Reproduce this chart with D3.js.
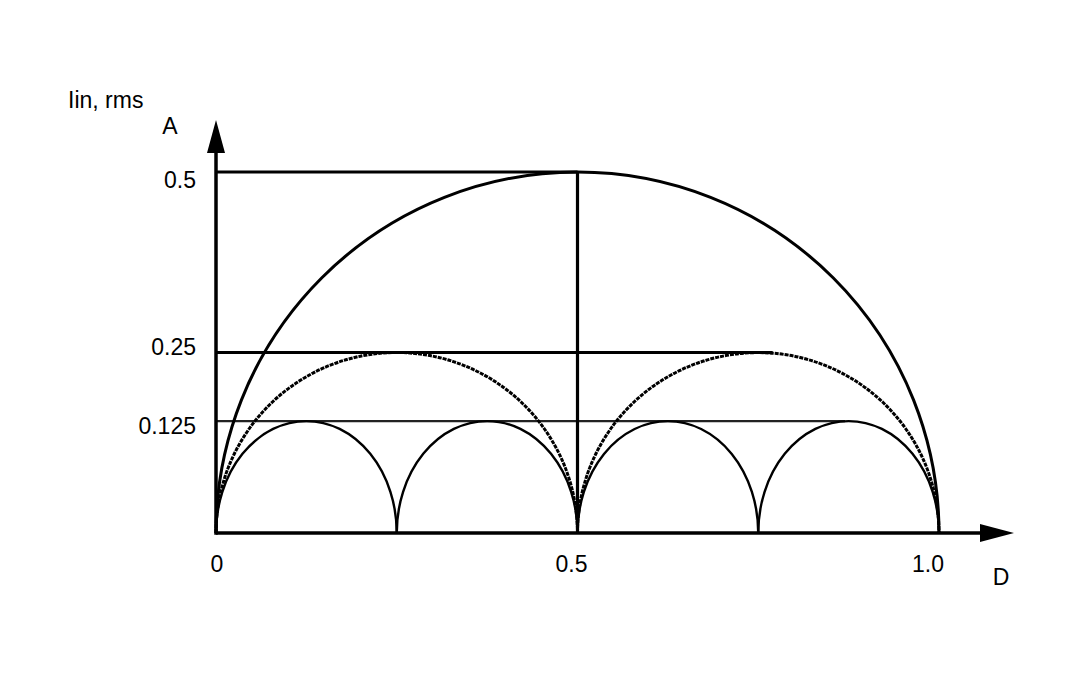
<!DOCTYPE html>
<html>
<head>
<meta charset="utf-8">
<script src="https://d3js.org/d3.v7.min.js"></script>
<style>
  body { margin: 0; background: #fff; }
  text { font-family: "Liberation Sans", Arial, sans-serif; font-size: 23px; fill: #000; }
</style>
</head>
<body>
<script>
// arcs: [start D, end D, peak]
var bigArcs = [[0, 1, 0.5]];
var midArcs = [[0, 0.5, 0.25], [0.5, 1, 0.25]];
var smallArcs = [[0, 0.25, 0.155], [0.25, 0.5, 0.155], [0.5, 0.75, 0.155], [0.75, 1, 0.155]];

// horizontal guide lines: level and where they stop on D
var guideLevels = [0.5, 0.25, 0.155];
var guideEnds = [0.5, 0.77, 0.87];
var yTickLabels = ["0.5", "0.25", "0.125"];

var xTicks = [0, 0.5, 1];
var xTickLabels = ["0", "0.5", "1.0"];

var W = 1080, H = 680;
var x = d3.scaleLinear().domain([0, 1]).range([216, 939]);
var y = d3.scaleLinear().domain([0, 0.5]).range([533, 172]);

var svg = d3.select("body").append("svg")
    .attr("width", W).attr("height", H);

function arcPath(d) {
    var rx = (x(d[1]) - x(d[0])) / 2,
        ry = y(0) - y(d[2]);
    return "M" + x(d[0]) + "," + y(0) + " A" + rx + "," + ry + " 0 0 1 " + x(d[1]) + "," + y(0);
}

// guide lines
var guideStyle = [
    { w: 3.2, c: "#000" },
    { w: 3.2, c: "#000" },
    { w: 2.4, c: "#222" }
];
svg.selectAll("line.guide")
    .data(guideLevels)
    .enter().append("line")
    .attr("class", "guide")
    .attr("x1", x(0))
    .attr("x2", function(d, i) { return x(guideEnds[i]); })
    .attr("y1", function(d) { return y(d); })
    .attr("y2", function(d) { return y(d); })
    .attr("stroke", function(d, i) { return guideStyle[i].c; })
    .attr("stroke-width", function(d, i) { return guideStyle[i].w; });

// vertical at D = 0.5
svg.append("line")
    .attr("x1", x(0.5)).attr("x2", x(0.5))
    .attr("y1", y(0)).attr("y2", y(0.5))
    .attr("stroke", "#000").attr("stroke-width", 3.2);

// arcs
svg.selectAll("path.big").data(bigArcs).enter().append("path")
    .attr("d", arcPath).attr("fill", "none")
    .attr("stroke", "#000").attr("stroke-width", 3);

svg.selectAll("path.mid").data(midArcs).enter().append("path")
    .attr("d", arcPath).attr("fill", "none")
    .attr("stroke", "#000").attr("stroke-width", 3)
    .attr("stroke-dasharray", "4,1");

svg.selectAll("path.small").data(smallArcs).enter().append("path")
    .attr("d", arcPath).attr("fill", "none")
    .attr("stroke", "#000").attr("stroke-width", 2.4);

// axes
svg.append("line")
    .attr("x1", x(0)).attr("x2", 982)
    .attr("y1", y(0)).attr("y2", y(0))
    .attr("stroke", "#000").attr("stroke-width", 3.5);
svg.append("line")
    .attr("x1", x(0)).attr("x2", x(0))
    .attr("y1", y(0) + 1.7).attr("y2", 150)
    .attr("stroke", "#000").attr("stroke-width", 3.5);

// arrowheads
svg.append("path")
    .attr("d", "M" + x(0) + ",120 L" + (x(0) - 9) + ",153 L" + (x(0) + 9) + ",153 Z")
    .attr("fill", "#000");
svg.append("path")
    .attr("d", "M1014," + y(0) + " L980," + (y(0) - 9) + " L980," + (y(0) + 9) + " Z")
    .attr("fill", "#000");

// y tick labels
var yLabelDy = [16, 2, 13];
svg.selectAll("text.ytick")
    .data(guideLevels)
    .enter().append("text")
    .attr("x", 196)
    .attr("y", function(d, i) { return y(d) + yLabelDy[i]; })
    .attr("text-anchor", "end")
    .text(function(d, i) { return yTickLabels[i]; });

// x tick labels
var xLabelDx = [1, -6, -11];
svg.selectAll("text.xtick")
    .data(xTicks)
    .enter().append("text")
    .attr("x", function(d, i) { return x(d) + xLabelDx[i]; })
    .attr("y", 572)
    .attr("text-anchor", "middle")
    .text(function(d, i) { return xTickLabels[i]; });

// axis titles
svg.append("text").attr("x", 68).attr("y", 108).text("Iin, rms");
svg.append("text").attr("x", 170).attr("y", 134).attr("text-anchor", "middle").text("A");
svg.append("text").attr("x", 1001).attr("y", 585).attr("text-anchor", "middle").text("D");
</script>
</body>
</html>
